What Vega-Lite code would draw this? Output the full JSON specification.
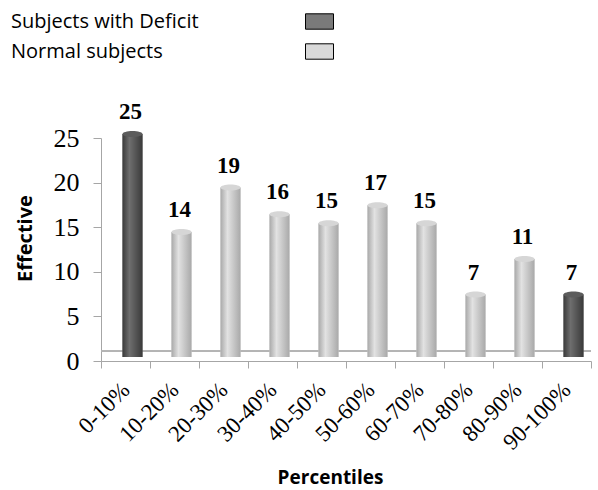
{
  "$schema": "https://vega.github.io/schema/vega-lite/v6.json",
  "width": 490,
  "height": 223,
  "autosize": "none",
  "padding": {"left": 101, "top": 138, "right": 7, "bottom": 129},
  "background": "white",
  "data": {"values": [
    {"range": "0-10%", "count": 25, "group": "Subjects with Deficit"},
    {"range": "10-20%", "count": 14, "group": "Normal subjects"},
    {"range": "20-30%", "count": 19, "group": "Normal subjects"},
    {"range": "30-40%", "count": 16, "group": "Normal subjects"},
    {"range": "40-50%", "count": 15, "group": "Normal subjects"},
    {"range": "50-60%", "count": 17, "group": "Normal subjects"},
    {"range": "60-70%", "count": 15, "group": "Normal subjects"},
    {"range": "70-80%", "count": 7, "group": "Normal subjects"},
    {"range": "80-90%", "count": 11, "group": "Normal subjects"},
    {"range": "90-100%", "count": 7, "group": "Subjects with Deficit"}
  ]},
  "encoding": {
    "x": {"field": "range", "type": "nominal", "sort": null,
      "scale": {"paddingInner": 0, "paddingOuter": 0},
      "axis": {"title": "Percentiles", "labelAngle": -45, "labelFont": "Liberation Serif", "labelFontSize": 23, "labelColor": "black",
        "labelAlign": "right", "labelBaseline": "middle", "labelPadding": 18, "tickBand": "extent", "tickSize": 7, "tickColor": "#a6a6a6", "domainColor": "#a6a6a6",
        "titleFont": "Open Sans", "titleFontWeight": "bold", "titleFontSize": 19, "titleColor": "black",
        "titleX": 229, "titleY": 116, "titleBaseline": "middle", "titleAlign": "center", "titleAnchor": null}},
    "y": {"field": "count", "type": "quantitative",
      "scale": {"domain": [0, 25], "nice": false},
      "axis": {"title": "Effective", "values": [0, 5, 10, 15, 20, 25], "grid": false,
        "labelFont": "Liberation Serif", "labelFontSize": 26, "labelColor": "black", "labelPadding": 14,
        "tickSize": 8, "tickColor": "#a6a6a6", "domainColor": "#a6a6a6",
        "titleFont": "Open Sans", "titleFontWeight": "bold", "titleFontSize": 20, "titleColor": "black",
        "titleX": -76, "titleY": 100, "titleAngle": -90, "titleBaseline": "middle", "titleAlign": "center", "titleAnchor": null}}
  },
  "layer": [
    {"mark": {"type": "rule", "color": "#b4b4b4", "yOffset": -10, "strokeWidth": 1},
     "encoding": {"y": {"datum": 0}, "x": null}},
    {"mark": {"type": "bar", "size": 20, "xOffset": 7, "yOffset": -4, "y2Offset": -4},
     "encoding": {
       "color": {"field": "group", "type": "nominal",
         "scale": {"domain": ["Subjects with Deficit", "Normal subjects"], "range": ["#7a7a7a", "#d9d9d9"]},
         "legend": {"title": null, "orient": "none", "legendX": 204, "legendY": -131, "direction": "vertical",
           "symbolType": "M-1,-0.55H1V0.55H-1Z", "symbolSize": 784, "symbolStrokeColor": "black", "symbolStrokeWidth": 1,
           "symbolOpacity": 1, "rowPadding": 5, "labelOffset": -323, "labelFont": "Open Sans", "labelFontSize": 20,
           "labelColor": "black", "labelLimit": 400}}
     }},
    {"transform": [{"filter": "datum.group == 'Subjects with Deficit'"}],
     "mark": {"type": "bar", "size": 20, "xOffset": 7, "yOffset": -4, "y2Offset": -4,
       "color": {"gradient": "linear", "x1": 0, "x2": 1, "y1": 0, "y2": 0,
         "stops": [{"offset": 0, "color": "#3a3a3a"}, {"offset": 0.35, "color": "#6e6e6e"}, {"offset": 1, "color": "#3a3a3a"}]}}},
    {"transform": [{"filter": "datum.group == 'Normal subjects'"}],
     "mark": {"type": "bar", "size": 20, "xOffset": 7, "yOffset": -4, "y2Offset": -4,
       "color": {"gradient": "linear", "x1": 0, "x2": 1, "y1": 0, "y2": 0,
         "stops": [{"offset": 0, "color": "#a9a9a9"}, {"offset": 0.35, "color": "#e2e2e2"}, {"offset": 1, "color": "#a9a9a9"}]}}},
    {"transform": [{"filter": "datum.group == 'Subjects with Deficit'"}],
     "mark": {"type": "point", "filled": true, "shape": "M-1,0A1,0.3 0 1,1 1,0A1,0.3 0 1,1 -1,0Z", "size": 400, "xOffset": 7, "yOffset": -4, "color": "#5c5c5c", "opacity": 1}},
    {"transform": [{"filter": "datum.group == 'Normal subjects'"}],
     "mark": {"type": "point", "filled": true, "shape": "M-1,0A1,0.3 0 1,1 1,0A1,0.3 0 1,1 -1,0Z", "size": 400, "xOffset": 7, "yOffset": -4, "color": "#d6d6d6", "opacity": 1}},
    {"mark": {"type": "text", "font": "Liberation Serif", "fontWeight": "bold", "fontSize": 23, "baseline": "alphabetic", "dy": -19, "xOffset": 5, "color": "black"},
     "encoding": {"text": {"field": "count", "type": "quantitative"}}}
  ],
  "config": {"view": {"stroke": null}}
}
